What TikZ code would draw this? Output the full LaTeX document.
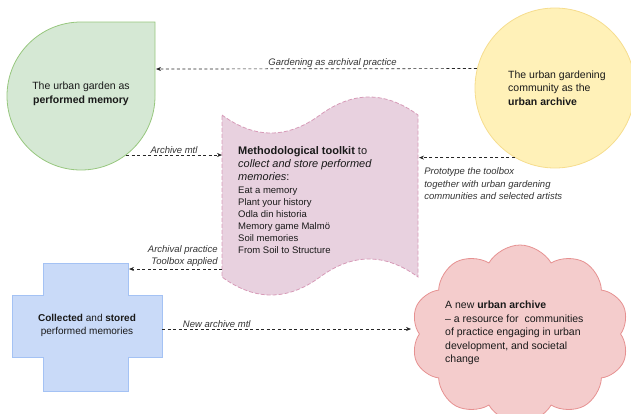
\documentclass[tikz,border=0pt]{standalone}
\usepackage{fontspec}
\setmainfont{Liberation Sans}
\usetikzlibrary{arrows.meta,shapes.symbols}
\definecolor{gardenfill}{HTML}{D5E8D4}
\definecolor{gardenline}{HTML}{97C77E}
\definecolor{communityfill}{HTML}{FFF1B8}
\definecolor{communityline}{HTML}{F6DD8E}
\definecolor{toolkitfill}{HTML}{E8D1DF}
\definecolor{toolkitline}{HTML}{D79BB8}
\definecolor{memoriesfill}{HTML}{C9DAF8}
\definecolor{memoriesline}{HTML}{A4C2F4}
\definecolor{archivefill}{HTML}{F4CCCC}
\definecolor{archiveline}{HTML}{E69191}

\begin{document}
\begin{tikzpicture}[x=1pt,y=-1pt,
    link/.style={draw=black!85, line width=0.7pt, dash pattern=on 3pt off 2.5pt, -{Stealth[length=5pt,width=4pt]}},
    linklabel/.style={font=\fontsize{9.5}{12.5}\selectfont\itshape, text=black!80, inner sep=1pt},
    maintext/.style={font=\fontsize{10.5}{13.5}\selectfont, text=black!90, align=left, inner sep=0pt},
  ]
  \useasboundingbox (0,0) rectangle (631,413);

  % the urban garden
  \draw[draw=gardenline, fill=gardenfill, line width=0.8pt] (155,22) -- (155,96) arc (0:270:74) -- cycle;
  \node[maintext, align=center] (garden) at (81,94) {The urban garden as\\\textbf{performed memory}};
  \coordinate (garden-e) at (156,69);
  \coordinate (garden-se) at (126,155);

  % the community
  \node[circle, draw=communityline, fill=communityfill, line width=0.8pt, minimum size=160pt, inner sep=0pt] (community) at (555,88) {};
  \node[maintext, anchor=west] (communitytext) at (508,88) {The urban gardening\\community as the\\\textbf{urban archive}};

  % toolkit
  \draw[draw=toolkitline, fill=toolkitfill, line width=0.8pt, dash pattern=on 4pt off 2pt]
    (222,115) .. controls (254.7,139) and (287.3,139) .. (320,115)
    .. controls (352.7,91) and (385.3,91) .. (418,115)
    -- (418,277)
    .. controls (385.3,253) and (352.7,253) .. (320,277)
    .. controls (287.3,301) and (254.7,301) .. (222,277) -- cycle;
  \node[maintext, anchor=north west, font=\fontsize{11}{13}\selectfont] (toolkit) at (238,146)
    {\textbf{Methodological toolkit} to\\\textit{collect and store performed}\\\textit{memories}:};
  \node[maintext, anchor=north west, font=\fontsize{9.5}{12}\selectfont] (toolkitlist) at (238,186.5)
    {Eat a memory\\Plant your history\\Odla din historia\\Memory game Malmö\\Soil memories\\From Soil to Structure};
  \coordinate (toolkit-w) at (222,155);
  \coordinate (toolkit-e) at (419,157);
  \coordinate (toolkit-sw) at (222,269);

  % collected memories
  \draw[draw=memoriesline, fill=memoriesfill, line width=0.8pt]
    (43,263) -- (128,263) -- (128,295) -- (162,295) -- (162,357) -- (128,357) -- (128,391)
    -- (43,391) -- (43,357) -- (12,357) -- (12,295) -- (43,295) -- cycle;
  \node[maintext, align=center, font=\fontsize{10}{13}\selectfont] (memories) at (87,325.5) {\textbf{Collected} and \textbf{stored}\\performed memories};
  \coordinate (memories-ne) at (129,269);
  \coordinate (memories-e) at (162,329);

  % new archive
  \node[cloud, cloud puffs=10, cloud puff arc=120, aspect=1.3, draw=archiveline, fill=archivefill, line width=0.8pt,
    minimum width=218pt, minimum height=178pt, inner sep=0pt] (newarchive) at (520,334) {};
  \node[maintext, anchor=west] (newarchivetext) at (445,333)
    {A new \textbf{urban archive}\\– a resource for~ communities\\of practice engaging in urban\\development, and societal\\change};
  \coordinate (newarchive-w) at (411,329);

  % connectors
  \draw[link] (community.166) -- (garden-e) node[linklabel, pos=0.45, above] {Gardening as archival practice};
  \draw[link] (garden-se) -- (toolkit-w) node[linklabel, midway, above] {Archive mtl};
  \draw[link] (community.240) -- (community.240 -| toolkit-e)
    node[linklabel, pos=1, anchor=north west, align=left, xshift=4pt, yshift=-9pt] {Prototype the toolbox\\together with urban gardening\\communities and selected artists};
  \draw[link] (toolkit-sw) -- (memories-ne)
    node[linklabel, pos=0, anchor=south east, align=right, xshift=-3pt, yshift=1pt] {Archival practice\\Toolbox applied};
  \draw[link] (memories-e) -- (newarchive-w) node[linklabel, pos=0.22, above] {New archive mtl};
\end{tikzpicture}
\end{document}
